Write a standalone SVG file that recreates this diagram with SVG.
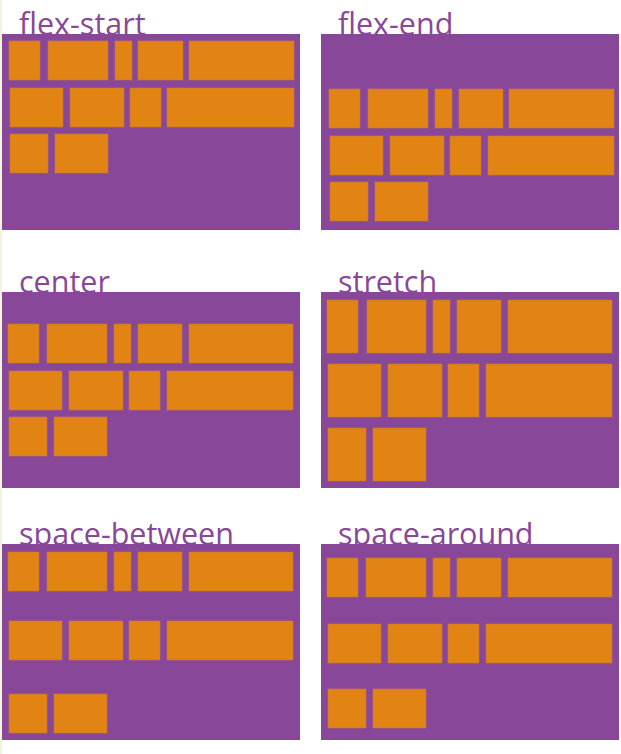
<svg xmlns="http://www.w3.org/2000/svg" width="621" height="754" viewBox="0 0 621 754">
<style>
.bg{fill:#ffffff}
.edge{fill:#f4f4de}
.panel{fill:#884799}
.item{fill:#e28413;stroke:#c9773a;stroke-width:0.6}
.title{font-family:"Open Sans","Noto Sans",sans-serif;font-size:30.5px;fill:#884799}
</style>
<rect class="bg" x="0" y="0" width="621" height="754"/>
<rect class="edge" x="0" y="0" width="2" height="754"/>

<g id="flex-start">
<text class="title" x="19" y="35">flex-start</text>
<rect class="panel" x="2" y="34" width="298" height="196"/>
<rect class="item" x="9" y="41" width="31" height="39"/>
<rect class="item" x="48" y="41" width="60" height="39"/>
<rect class="item" x="115" y="41" width="17" height="39"/>
<rect class="item" x="138" y="41" width="45" height="39"/>
<rect class="item" x="189" y="41" width="105" height="39"/>
<rect class="item" x="10" y="88" width="53" height="39"/>
<rect class="item" x="70" y="88" width="54" height="39"/>
<rect class="item" x="130" y="88" width="31" height="39"/>
<rect class="item" x="167" y="88" width="127" height="39"/>
<rect class="item" x="10" y="134" width="38" height="39"/>
<rect class="item" x="55" y="134" width="53" height="39"/>
</g>

<g id="flex-end">
<text class="title" x="338" y="35">flex-end</text>
<rect class="panel" x="321" y="34" width="298" height="196"/>
<rect class="item" x="329" y="89" width="31" height="39"/>
<rect class="item" x="368" y="89" width="60" height="39"/>
<rect class="item" x="435" y="89" width="17" height="39"/>
<rect class="item" x="459" y="89" width="44" height="39"/>
<rect class="item" x="509" y="89" width="105" height="39"/>
<rect class="item" x="330" y="136" width="53" height="39"/>
<rect class="item" x="390" y="136" width="54" height="39"/>
<rect class="item" x="450" y="136" width="31" height="39"/>
<rect class="item" x="488" y="136" width="126" height="39"/>
<rect class="item" x="330" y="182" width="38" height="39"/>
<rect class="item" x="375" y="182" width="53" height="39"/>
</g>

<g id="center">
<text class="title" x="19" y="293">center</text>
<rect class="panel" x="2" y="292" width="298" height="196"/>
<rect class="item" x="8" y="324" width="31" height="39"/>
<rect class="item" x="47" y="324" width="60" height="39"/>
<rect class="item" x="114" y="324" width="17" height="39"/>
<rect class="item" x="138" y="324" width="44" height="39"/>
<rect class="item" x="189" y="324" width="104" height="39"/>
<rect class="item" x="9" y="371" width="53" height="39"/>
<rect class="item" x="69" y="371" width="54" height="39"/>
<rect class="item" x="129" y="371" width="31" height="39"/>
<rect class="item" x="167" y="371" width="126" height="39"/>
<rect class="item" x="9" y="417" width="38" height="39"/>
<rect class="item" x="54" y="417" width="53" height="39"/>
</g>

<g id="stretch">
<text class="title" x="338" y="293">stretch</text>
<rect class="panel" x="321" y="292" width="298" height="196"/>
<rect class="item" x="327" y="300" width="31" height="53"/>
<rect class="item" x="367" y="300" width="59" height="53"/>
<rect class="item" x="433" y="300" width="17" height="53"/>
<rect class="item" x="457" y="300" width="44" height="53"/>
<rect class="item" x="508" y="300" width="104" height="53"/>
<rect class="item" x="328" y="364" width="53" height="53"/>
<rect class="item" x="388" y="364" width="54" height="53"/>
<rect class="item" x="448" y="364" width="31" height="53"/>
<rect class="item" x="486" y="364" width="126" height="53"/>
<rect class="item" x="328" y="428" width="38" height="53"/>
<rect class="item" x="373" y="428" width="53" height="53"/>
</g>

<g id="space-between">
<text class="title" x="19" y="545">space-between</text>
<rect class="panel" x="2" y="544" width="298" height="196"/>
<rect class="item" x="8" y="552" width="31" height="39"/>
<rect class="item" x="47" y="552" width="60" height="39"/>
<rect class="item" x="114" y="552" width="17" height="39"/>
<rect class="item" x="138" y="552" width="44" height="39"/>
<rect class="item" x="189" y="552" width="104" height="39"/>
<rect class="item" x="9" y="621" width="53" height="39"/>
<rect class="item" x="69" y="621" width="54" height="39"/>
<rect class="item" x="129" y="621" width="31" height="39"/>
<rect class="item" x="167" y="621" width="126" height="39"/>
<rect class="item" x="9" y="694" width="38" height="39"/>
<rect class="item" x="54" y="694" width="53" height="39"/>
</g>

<g id="space-around">
<text class="title" x="338" y="545">space-around</text>
<rect class="panel" x="321" y="544" width="298" height="196"/>
<rect class="item" x="327" y="558" width="31" height="39"/>
<rect class="item" x="366" y="558" width="60" height="39"/>
<rect class="item" x="433" y="558" width="17" height="39"/>
<rect class="item" x="457" y="558" width="44" height="39"/>
<rect class="item" x="508" y="558" width="104" height="39"/>
<rect class="item" x="328" y="624" width="53" height="39"/>
<rect class="item" x="388" y="624" width="54" height="39"/>
<rect class="item" x="448" y="624" width="31" height="39"/>
<rect class="item" x="486" y="624" width="126" height="39"/>
<rect class="item" x="328" y="689" width="38" height="39"/>
<rect class="item" x="373" y="689" width="53" height="39"/>
</g>

<g id="connectors"></g>
</svg>
